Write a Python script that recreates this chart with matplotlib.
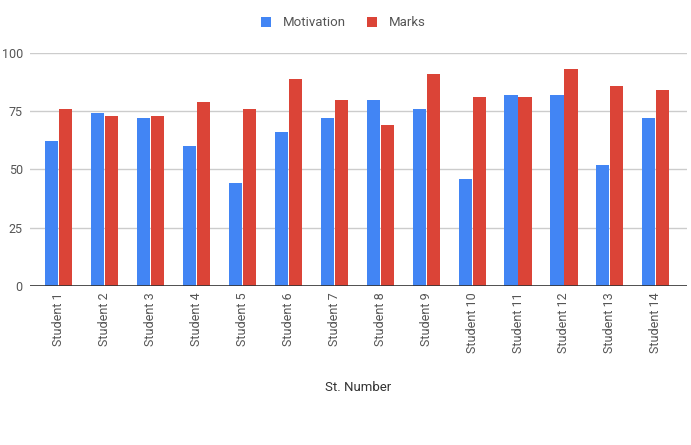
import numpy as np
import matplotlib.pyplot as plt

plt.rcParams['font.family'] = ['Roboto', 'DejaVu Sans']

students = ['Student %d' % i for i in range(1, 15)]
motivation = [62, 74, 72, 60, 44, 66, 72, 80, 76, 46, 82, 82, 52, 72]
marks = [76, 73, 73, 79, 76, 89, 80, 69, 91, 81, 81, 93, 86, 84]

blue = '#4285F4'
red = '#DB4437'

fig = plt.figure(figsize=(6.91, 4.45), dpi=100)
ax = fig.add_axes([0.043, 0.358, 0.951, 0.523])

x = np.arange(len(students))
w = 0.285
ax.bar(x - w / 2 - 0.01, motivation, w, color=blue, label='Motivation', zorder=3)
ax.bar(x + w / 2 + 0.01, marks, w, color=red, label='Marks', zorder=3)

ax.set_xlim(-0.63, len(students) - 0.325)
ax.set_ylim(0, 100)
ax.set_yticks([0, 25, 50, 75, 100])
ax.grid(axis='y', color='#cccccc', linewidth=1, zorder=0)
ax.axhline(0, color='#333333', linewidth=1.2, zorder=4)

ax.set_xticks(x)
ax.set_xticklabels(students, rotation=90, fontsize=9, color='#555555')
ax.tick_params(axis='y', labelsize=9, labelcolor='#555555', length=0, pad=5)
ax.tick_params(axis='x', length=0, pad=5)
for s in ax.spines.values():
    s.set_visible(False)

ax.set_xlabel('St. Number', fontsize=9.5, color='#333333', labelpad=20)

fig.legend(loc='upper center', bbox_to_anchor=(0.497, 0.99), ncol=2, frameon=False,
           fontsize=9.5, handlelength=0.75, handleheight=0.75, handletextpad=0.9,
           columnspacing=1.6, labelcolor='#555555')

fig.savefig('out.png', dpi=100)
